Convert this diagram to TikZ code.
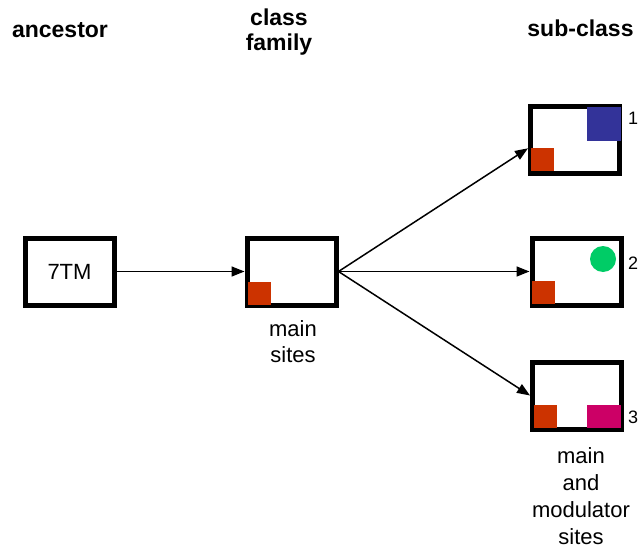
\documentclass[tikz,border=0pt]{standalone}
\usepackage{fontspec}
\setmainfont{Liberation Sans}
\usepackage{tikz}
\usetikzlibrary{arrows.meta}
\definecolor{sitered}{HTML}{CC3300}
\definecolor{siteblue}{HTML}{333399}
\definecolor{sitegreen}{HTML}{00CC66}
\definecolor{sitepink}{HTML}{CC0066}

\begin{document}
\begin{tikzpicture}[x=1pt,y=-1pt,
		hdr/.style={font=\bfseries\fontsize{23}{25}\selectfont,inner sep=0pt},
		lbl/.style={font=\fontsize{22}{26}\selectfont,inner sep=0pt},
		num/.style={font=\fontsize{18}{20}\selectfont,inner sep=0pt,anchor=west},
		rbox/.style={draw,line width=5pt,minimum width=89pt,minimum height=67pt,inner sep=0pt,font=\fontsize{22}{24}\selectfont},
		site/.style={inner sep=0pt,outer sep=0pt,minimum width=23pt,minimum height=23pt},
		arr/.style={line width=1.5pt,-{Triangle[length=13pt,width=10pt]}}]
		\useasboundingbox (0,0) rectangle (640,551);
		\node[hdr,anchor=base] (H1) at (60,38) {ancestor};
		\node[hdr,align=center] (H2) at (279,32) {class\\family};
		\node[hdr,anchor=base] (H3) at (580.5,37) {sub-class};
		\node[rbox] (anc) at (69.5,271.5) {7TM};
		\node[rbox] (fam) at (291.5,271.5) {};
		\node[rbox] (sub1) at (575,140) {};
		\node[rbox] (sub2) at (576.5,271.5) {};
		\node[rbox] (sub3) at (577,395.5) {};
		\node[site,fill=sitered,anchor=south west] (fam-m) at ([shift={(3,-3)}]fam.south west) {};
		\node[site,fill=siteblue,anchor=north east,minimum width=34pt,minimum height=34pt] (sub1-x) at ([shift={(-1.5,3)}]sub1.north east) {};
		\node[site,fill=sitered,anchor=south west] (sub1-m) at ([shift={(3,-5)}]sub1.south west) {};
		\node[site,fill=sitegreen,circle,minimum size=26pt] (sub2-x) at ([shift={(-20.5,23.5)}]sub2.north east) {};
		\node[site,fill=sitered,anchor=south west] (sub2-m) at ([shift={(2,-4)}]sub2.south west) {};
		\node[site,fill=sitered,anchor=south west] (sub3-m) at ([shift={(4,-3.5)}]sub3.south west) {};
		\node[site,fill=sitepink,anchor=south east,minimum width=34pt] (sub3-x) at ([shift={(-3,-3.5)}]sub3.south east) {};
		\node[num] (n1) at (628,118.5) {1};
		\node[num] (n2) at (628,263) {2};
		\node[num] (n3) at (628,417) {3};
		\node[lbl,align=center] (L1) at (293,342) {main\\sites};
		\node[lbl,align=center,font=\fontsize{22}{27}\selectfont] (L2) at (581,496) {main\\and\\modulator\\sites};
		\draw[arr] (anc) -- (fam);
		\draw[arr] (fam.east) -- (sub1.190);
		\draw[arr] (fam.east) -- (sub2.west);
		\draw[arr] (fam.east) -- (sub3.west);
	\end{tikzpicture}
\end{document}
